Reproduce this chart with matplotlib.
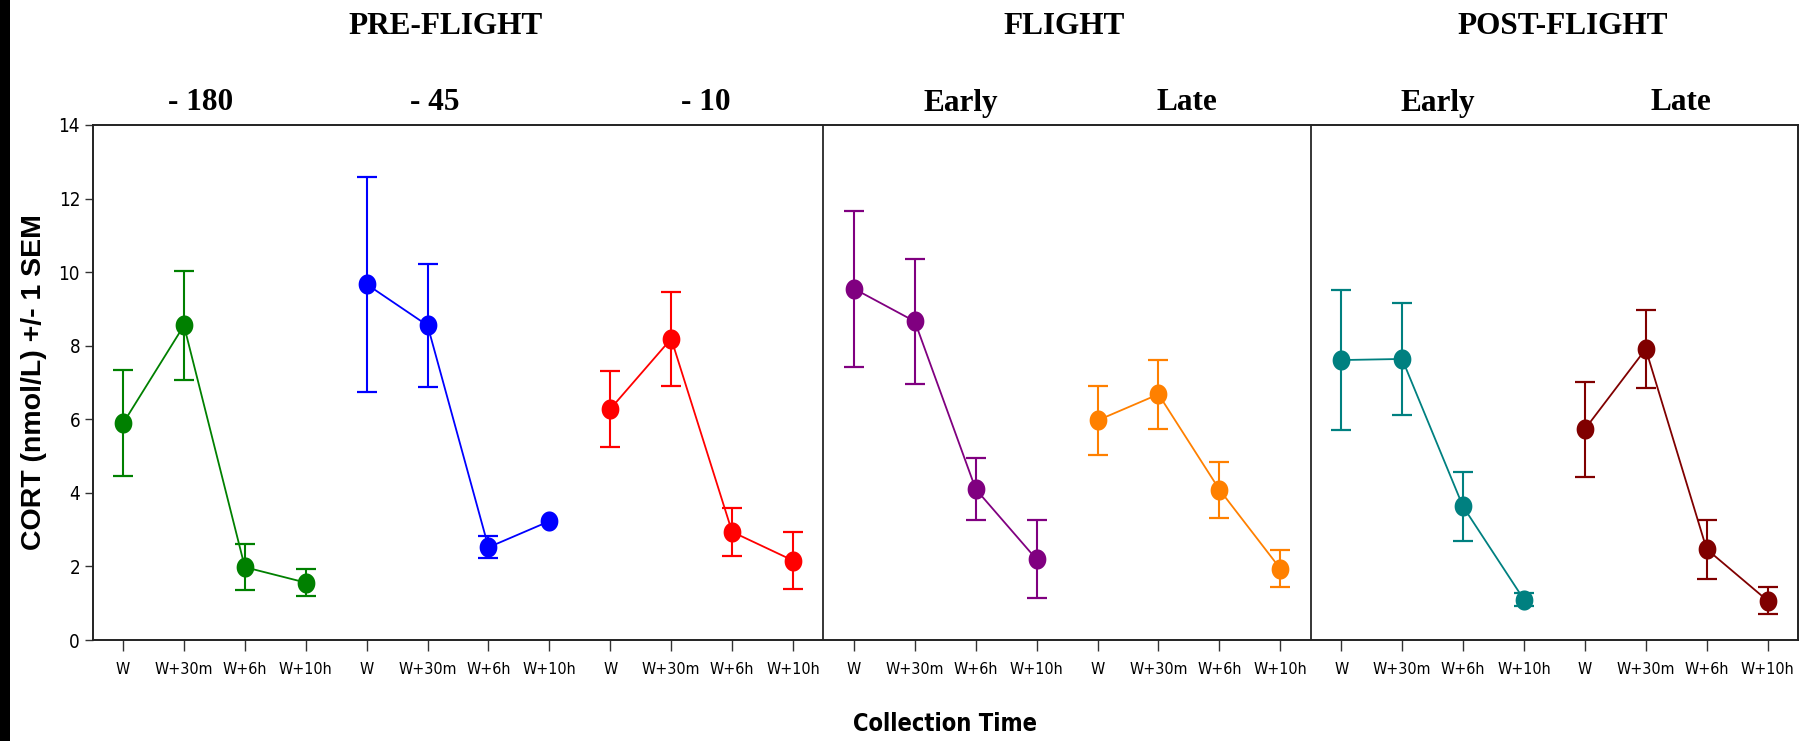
import numpy as np
import matplotlib
matplotlib.use('Agg')
import matplotlib.pyplot as plt
import matplotlib.transforms as mtrans
from matplotlib.path import Path
from matplotlib.patches import Rectangle
from matplotlib import font_manager
from matplotlib.font_manager import FontProperties

# ---------------- data ----------------
time_labels = ['W', 'W+30m', 'W+6h', 'W+10h']
group_labels = ['- 180', '- 45', '- 10', 'Early', 'Late', 'Early', 'Late']
phase_labels = ['PRE-FLIGHT', 'FLIGHT', 'POST-FLIGHT']
series_colors = ['#008000', '#0000FF', '#FF0000', '#800080', '#FF8000', '#008080', '#800000']

pre180_mean = [5.89, 8.55, 1.98, 1.56]
pre180_sem = [1.44, 1.47, 0.63, 0.36]
pre45_mean = [9.67, 8.55, 2.52, 3.23]
pre45_sem = [2.92, 1.67, 0.30, np.nan]
pre10_mean = [6.28, 8.19, 2.94, 2.16]
pre10_sem = [1.04, 1.28, 0.65, 0.78]
flight_early_mean = [9.55, 8.66, 4.10, 2.19]
flight_early_sem = [2.12, 1.69, 0.84, 1.06]
flight_late_mean = [5.97, 6.68, 4.09, 1.94]
flight_late_sem = [0.93, 0.94, 0.76, 0.50]
post_early_mean = [7.61, 7.64, 3.63, 1.10]
post_early_sem = [1.91, 1.51, 0.93, 0.17]
post_late_mean = [5.73, 7.91, 2.47, 1.07]
post_late_sem = [1.29, 1.05, 0.80, 0.37]

means = [pre180_mean, pre45_mean, pre10_mean, flight_early_mean,
         flight_late_mean, post_early_mean, post_late_mean]
sems = [pre180_sem, pre45_sem, pre10_sem, flight_early_sem,
        flight_late_sem, post_early_sem, post_late_sem]

# ---------------- fonts ----------------
def find_narrow(bold):
    best = None
    for f in font_manager.fontManager.ttflist:
        fn = f.fname.lower()
        nm = f.name.lower()
        txt = fn + ' ' + nm
        if not ('narrow' in txt or 'condensed' in txt or f.stretch in ('condensed', 'semi-condensed')):
            continue
        if 'mono' in txt or 'serif' in nm or 'italic' in fn or 'oblique' in fn:
            continue
        if 'semicondensed' in fn or 'extracondensed' in fn:
            continue
        w = f.weight if isinstance(f.weight, int) else (700 if 'bold' in str(f.weight) else 400)
        is_bold = w >= 600
        if is_bold != bold:
            continue
        if bold and w > 750:
            continue
        if not bold and w < 350:
            continue
        score = 0 if 'liberation' in txt else (1 if 'arial' in txt else (2 if 'dejavu' in txt else 3))
        if best is None or score < best[0]:
            best = (score, f.fname, f.name)
    return best

nr = find_narrow(False)
nb = find_narrow(True)
if nr is not None:
    tick_fp = FontProperties(fname=nr[1])
    big = 'dejavu' in nr[2].lower()
    tick_size = 11.5 if big else 12.5
    ytick_size = 13.5 if big else 15
else:
    tick_fp = FontProperties(family='Liberation Sans')
    tick_size = 11
    ytick_size = 13.5
if nb is not None:
    xlab_fp = FontProperties(fname=nb[1])
    xlab_size = 17 if 'dejavu' in nb[2].lower() else 19
else:
    xlab_fp = FontProperties(family='Liberation Sans', weight='bold')
    xlab_size = 17.5
serif_font = 'Liberation Serif'

# ---------------- figure ----------------
W, H = 1804, 741
fig = plt.figure(figsize=(W / 100, H / 100), dpi=100)
ax = fig.add_axes([92.6 / W, 1 - 640 / H, (1798 - 92.6) / W, (640 - 125) / H])

# elliptical marker (slightly taller than wide)
t = np.linspace(0, 2 * np.pi, 60)
ell = Path(np.column_stack([0.88 * np.cos(t), np.sin(t)]), closed=True)

n_t = len(time_labels)
for g, (m, s, c) in enumerate(zip(means, sems, series_colors)):
    x = np.arange(n_t) + g * n_t
    m = np.asarray(m, float)
    s = np.asarray(s, float)
    ok = np.isfinite(s)
    ax.errorbar(x[ok], m[ok], yerr=s[ok], fmt='none', ecolor=c,
                elinewidth=1.5, capsize=7.5, capthick=1.6, zorder=2)
    ax.plot(x, m, color=c, lw=1.3, marker=ell, markersize=14.5,
            markeredgewidth=0, zorder=3)

n_tot = n_t * len(group_labels)
ax.set_xlim(-0.5, n_tot - 0.5)
ax.set_ylim(0, 14)
ax.set_xticks(np.arange(n_tot))
ax.set_xticklabels(time_labels * len(group_labels), fontproperties=tick_fp,
                   fontsize=tick_size)
ax.set_yticks(np.arange(0, 15, 2))
ax.set_yticklabels([str(v) for v in range(0, 15, 2)], fontproperties=tick_fp,
                   fontsize=ytick_size)
ax.tick_params(axis='x', direction='out', length=8, width=1.0, pad=8, color='#333333')
ax.tick_params(axis='y', direction='out', length=6, width=1.0, pad=3, color='#333333')
for sp in ax.spines.values():
    sp.set_linewidth(1.4)
    sp.set_color('#222222')

# phase dividers
for xd in [11.5, 19.5]:
    ax.axvline(xd, color='black', lw=1.1, zorder=1)

blend = mtrans.blended_transform_factory(ax.transData, fig.transFigure)

# group labels (serif bold)
group_x = [1.28, 5.12, 9.56, 13.76, 17.47, 21.59, 25.58]
for gx, lab in zip(group_x, group_labels):
    ax.text(gx, 1 - 103 / H, lab, transform=blend,
            ha='center', va='center', fontfamily=serif_font, fontweight='bold',
            fontsize=22.5)

phase_x = [5.30, 15.45, 23.63]
for px, lab in zip(phase_x, phase_labels):
    ax.text(px, 1 - 27 / H, lab, transform=blend,
            ha='center', va='center', fontfamily=serif_font, fontweight='bold',
            fontsize=22.5)

fig.text(34 / W, 1 - 382 / H, 'CORT (nmol/L) +/- 1 SEM', rotation=90,
         ha='center', va='center', fontfamily='Liberation Sans',
         fontweight='bold', fontsize=20.5)
fig.text(945 / W, 1 - 724 / H, 'Collection Time', ha='center', va='center',
         fontproperties=xlab_fp, fontsize=xlab_size)

# black bar at left edge
fig.patches.append(Rectangle((0, 0), 10 / W, 1, transform=fig.transFigure,
                             facecolor='black', edgecolor='none'))

fig.savefig('out.png', dpi=100)
